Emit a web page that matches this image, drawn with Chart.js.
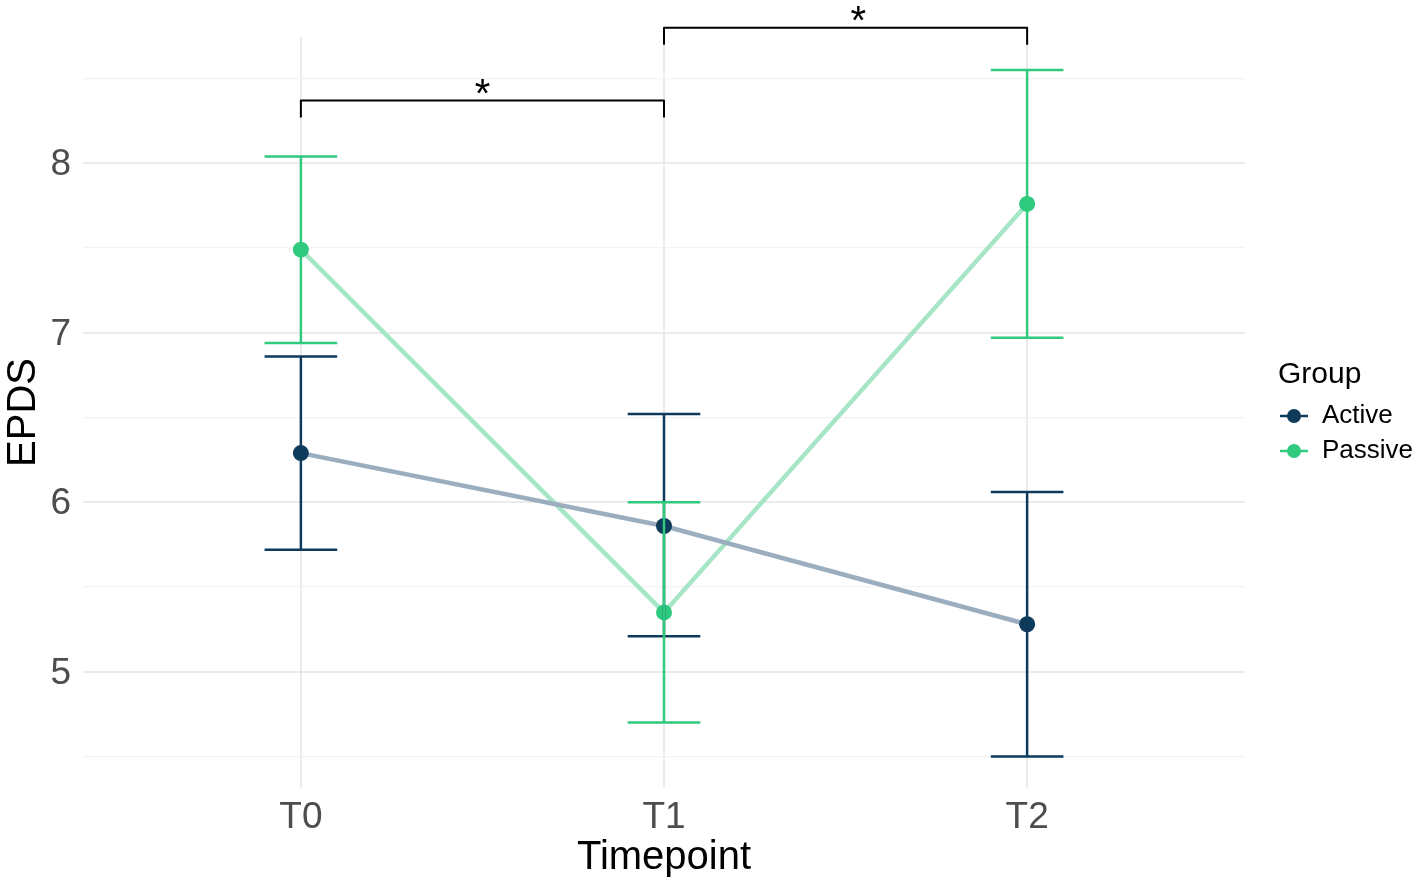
<!DOCTYPE html>
<html>
<head>
<meta charset="utf-8">
<script src="https://cdn.jsdelivr.net/npm/chart.js@4.4.1/dist/chart.umd.min.js"></script>
<style>
  html, body { margin: 0; padding: 0; background: #fff; }
  #wrap { width: 1418px; height: 885px; }
</style>
</head>
<body>
<div id="wrap"><canvas id="chart"></canvas></div>
<script>
const timepoints = ["T0", "T1", "T2"];

const activeMean = [6.29, 5.86, 5.28];
const activeLow  = [5.72, 5.21, 4.50];
const activeHigh = [6.86, 6.52, 6.06];

const passiveMean = [7.49, 5.35, 7.76];
const passiveLow  = [6.94, 4.70, 6.97];
const passiveHigh = [8.04, 6.00, 8.55];

const yTicks = [4.5, 5, 5.5, 6, 6.5, 7, 7.5, 8, 8.5];

// significance brackets
const bracketFrom   = [0, 1];
const bracketTo     = [1, 2];
const bracketTop    = [8.37, 8.80];
const bracketFoot   = [8.27, 8.70];
const bracketLabel  = ["*", "*"];
const bracketLabelX = [0.5, 1.535];

const FONT = "'Liberation Sans', Arial, sans-serif";

const groups = [
  { name: "Active",  color: "#0e3a5c", line: "#9aaebf", mean: activeMean,  low: activeLow,  high: activeHigh },
  { name: "Passive", color: "#2fca7e", line: "#a6e6c6", mean: passiveMean, low: passiveLow, high: passiveHigh }
];

const errorBars = {
  id: "errorBars",
  afterDatasetsDraw(chart) {
    const { ctx, scales: { x, y } } = chart;
    const half = x.getPixelForValue(0.1) - x.getPixelForValue(0);
    ctx.save();
    ctx.lineWidth = 2.5;
    groups.forEach(g => {
      ctx.strokeStyle = g.color;
      g.mean.forEach((m, i) => {
        const px = x.getPixelForValue(i);
        const lo = y.getPixelForValue(g.low[i]);
        const hi = y.getPixelForValue(g.high[i]);
        ctx.beginPath();
        ctx.moveTo(px, lo); ctx.lineTo(px, hi);
        ctx.moveTo(px - half, lo); ctx.lineTo(px + half, lo);
        ctx.moveTo(px - half, hi); ctx.lineTo(px + half, hi);
        ctx.stroke();
      });
    });
    ctx.restore();
  }
};

const brackets = {
  id: "brackets",
  afterDraw(chart) {
    const { ctx, scales: { x, y } } = chart;
    ctx.save();
    ctx.strokeStyle = "#000";
    ctx.lineWidth = 2;
    ctx.lineJoin = "round";
    ctx.fillStyle = "#000";
    ctx.font = "40px " + FONT;
    ctx.textAlign = "center";
    ctx.textBaseline = "alphabetic";
    bracketFrom.forEach((f, i) => {
      const x1 = x.getPixelForValue(f), x2 = x.getPixelForValue(bracketTo[i]);
      const yt = y.getPixelForValue(bracketTop[i]), yf = y.getPixelForValue(bracketFoot[i]);
      ctx.beginPath();
      ctx.moveTo(x1, yf); ctx.lineTo(x1, yt); ctx.lineTo(x2, yt); ctx.lineTo(x2, yf);
      ctx.stroke();
      const m = ctx.measureText(bracketLabel[i]);
      const c = yt - 14;
      const by = c + (m.actualBoundingBoxAscent - m.actualBoundingBoxDescent) / 2;
      ctx.fillText(bracketLabel[i], x.getPixelForValue(bracketLabelX[i]), by);
    });
    ctx.restore();
  }
};

const legendBox = {
  id: "legendBox",
  afterDraw(chart) {
    const ctx = chart.ctx;
    ctx.save();
    ctx.fillStyle = "#000";
    ctx.textBaseline = "middle";
    ctx.textAlign = "left";
    ctx.font = "30px " + FONT;
    ctx.fillText("Group", 1278, 375);
    ctx.font = "26px " + FONT;
    groups.forEach((g, i) => {
      const cy = 416 + i * 35;
      ctx.strokeStyle = g.color;
      ctx.lineWidth = 2.5;
      ctx.beginPath(); ctx.moveTo(1280, cy); ctx.lineTo(1308, cy); ctx.stroke();
      ctx.fillStyle = g.color;
      ctx.beginPath(); ctx.arc(1294, cy, 7, 0, Math.PI * 2); ctx.fill();
      ctx.fillStyle = "#000";
      ctx.fillText(g.name, 1322, cy);
    });
    ctx.restore();
  }
};

new Chart(document.getElementById("chart"), {
  type: "line",
  data: {
    datasets: groups.map(g => ({
      label: g.name,
      data: g.mean.map((v, i) => ({ x: i, y: v })),
      borderColor: g.line,
      borderWidth: 4.5,
      pointRadius: 8,
      pointBackgroundColor: g.color,
      pointBorderWidth: 0,
      pointHoverRadius: 8,
      tension: 0
    }))
  },
  options: {
    responsive: true,
    maintainAspectRatio: false,
    animation: false,
    layout: { padding: { left: 0, right: 173, top: 37, bottom: 0 } },
    plugins: { legend: { display: false }, tooltip: { enabled: false } },
    scales: {
      x: {
        type: "linear",
        min: -0.6, max: 2.6,
        afterBuildTicks: s => { s.ticks = timepoints.map((t, i) => ({ value: i })); },
        afterFit: s => { s.height = 97; },
        ticks: {
          autoSkip: false,
          padding: 8,
          color: "#4d4d4d",
          font: { family: FONT, size: 37 },
          callback: v => timepoints[v]
        },
        grid: { color: "#ebebeb", lineWidth: 2, drawTicks: false },
        border: { display: false },
        title: { display: true, text: "Timepoint", color: "#000", font: { family: FONT, size: 40 }, padding: { top: 0, bottom: 3 } }
      },
      y: {
        min: 4.314, max: 8.745,
        afterBuildTicks: s => { s.ticks = yTicks.map(v => ({ value: v })); },
        afterFit: s => { s.width = 83; },
        ticks: {
          autoSkip: false,
          padding: 12,
          labelOffset: 2,
          color: "#4d4d4d",
          font: { family: FONT, size: 37 },
          callback: v => Number.isInteger(v) ? String(v) : ""
        },
        grid: {
          color: c => Number.isInteger(c.tick.value) ? "#ebebeb" : "#f3f3f3",
          lineWidth: c => Number.isInteger(c.tick.value) ? 2 : 1.3,
          drawTicks: false
        },
        border: { display: false },
        title: { display: true, text: "EPDS", color: "#000", font: { family: FONT, size: 40 }, padding: { top: 0, bottom: 0 } }
      }
    }
  },
  plugins: [errorBars, brackets, legendBox]
});
</script>
</body>
</html>
